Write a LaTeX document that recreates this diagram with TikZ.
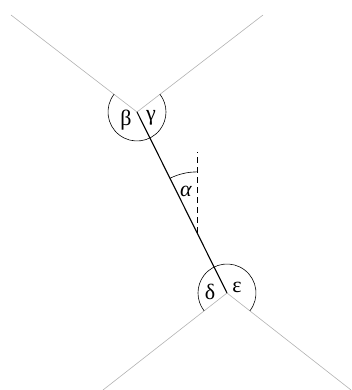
\documentclass[tikz,border=0pt]{standalone}
\usepackage{fontspec}
\setmainfont{Liberation Serif}
\usetikzlibrary{calc}
\begin{document}
\begin{tikzpicture}[x=1pt,y=1pt]
    \tikzset{
        wall/.style={draw=black!30, line width=0.6pt},
        rod/.style={draw=black, line width=1.1pt},
        ang/.style={draw=black, line width=0.6pt},
        lbl/.style={inner sep=0pt, font=\fontsize{22pt}{22pt}\selectfont}
    }
    \useasboundingbox (0,0) rectangle (352,390);

    \coordinate (T) at (137,278);
    \coordinate (B) at (227,97);
    \coordinate (tl) at (11,375);
    \coordinate (tr) at (263,375);
    \coordinate (bl) at (103,0);
    \coordinate (br) at (351,0);

    \draw[wall] (tl) -- (T) -- (tr);
    \draw[wall] (bl) -- (B) -- (br);
    \draw[rod] (T) -- (B);

    % angle arcs at the two ends
    \draw[ang] (T) ++(142.2:29) arc[start angle=142.2, end angle=397.8, radius=29];
    \draw[ang] (B) ++(-37.8:29) arc[start angle=-37.8, end angle=217.8, radius=29];

    % vertical reference and alpha
    \coordinate (D) at ($(T)!0.668!(B)$);
    \coordinate (Dt) at ($(D)+(0,81)$);
    \draw[ang, line width=0.9pt, dash pattern=on 6pt off 4pt] (D) -- (Dt);
    \draw[ang] (D) ++(90:61) arc[start angle=90, end angle=116.4, radius=61];

    \node[lbl] (beta) at (126,270) {β};
    \node[lbl] (gamma) at (151,272) {γ};
    \node[lbl] (delta) at (210,98) {δ};
    \node[lbl] (eps) at (237,103) {ε};
    \node[lbl] (alpha) at (186,199) {\itshape α};
\end{tikzpicture}
\end{document}
